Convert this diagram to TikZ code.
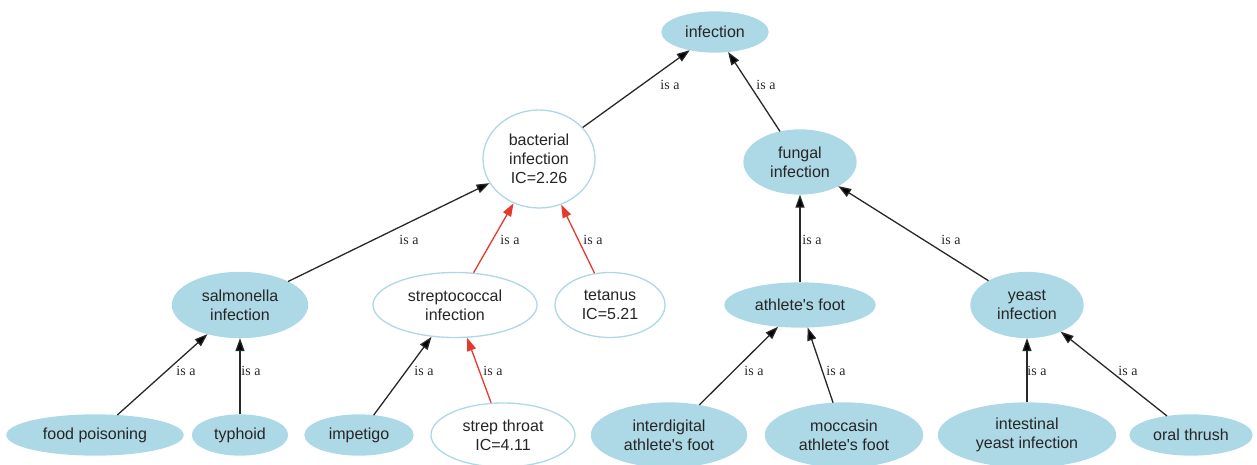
\documentclass[tikz,border=0pt]{standalone}
\usepackage{fontspec}
\setmainfont{Liberation Serif}
\setsansfont{Liberation Sans}
\usetikzlibrary{shapes.geometric, arrows.meta}
\definecolor{conceptblue}{RGB}{173,216,230}
\definecolor{pathred}{RGB}{229,57,45}
\definecolor{edgegray}{RGB}{40,40,40}
\tikzset{
->, % every edge points to the parent concept
>={Triangle[length=13pt,width=9pt]}, % filled heads, graphviz style
concept/.style={ellipse, inner sep=0pt, fill=conceptblue, draw=conceptblue, line width=1.3pt, align=center, text=black!85, font=\sffamily\fontsize{16}{19}\selectfont}, % a concept of the ontology
ic/.style={concept, fill=white}, % concepts that carry an IC value
isa/.style={font=\fontsize{14}{16}\selectfont, text=black!85, inner sep=0pt}, % edge labels
link/.style={draw=edgegray, line width=1.3pt},
redlink/.style={draw=pathred},
}

\begin{document}
\begin{tikzpicture}[x=1pt, y=-1pt]
    \useasboundingbox (0,0) rectangle (1257,465);
    % top
    \node[concept, minimum width=106pt, minimum height=40pt] (inf) at (715,32) {infection};
    \node[ic, minimum width=112pt, minimum height=98pt] (bact) at (539,159) {bacterial\\infection\\IC=2.26};
    \node[concept, minimum width=112pt, minimum height=64pt] (fung) at (800,162) {fungal\\infection};
    % middle row
    \node[concept, minimum width=135pt, minimum height=65pt] (salm) at (240,305) {salmonella\\infection};
    \node[ic, minimum width=164pt, minimum height=65pt] (strep) at (455,305) {streptococcal\\infection};
    \node[ic, minimum width=110pt, minimum height=65pt] (tet) at (610,305) {tetanus\\IC=5.21};
    \node[concept, minimum width=150pt, minimum height=44pt] (athl) at (800,305) {athlete\textquotesingle s foot};
    \node[concept, minimum width=112pt, minimum height=65pt] (yeast) at (1027,305) {yeast\\infection};
    % bottom row
    \node[concept, minimum width=176pt, minimum height=40pt] (food) at (95,435) {food poisoning};
    \node[concept, minimum width=95pt, minimum height=40pt] (typh) at (240,435) {typhoid};
    \node[concept, minimum width=108pt, minimum height=40pt] (imp) at (359,435) {impetigo};
    \node[ic, minimum width=144pt, minimum height=64pt] (throat) at (503,435) {strep throat\\IC=4.11};
    \node[concept, minimum width=155pt, minimum height=64pt] (inter) at (669,435) {interdigital\\athlete\textquotesingle s foot};
    \node[concept, minimum width=157pt, minimum height=64pt] (mocc) at (844,435) {moccasin\\athlete\textquotesingle s foot};
    \node[concept, minimum width=177pt, minimum height=64pt] (intest) at (1027,435) {intestinal\\yeast infection};
    \node[concept, minimum width=122pt, minimum height=40pt] (oral) at (1191,435) {oral thrush};
    \draw[link]
    (bact) edge (inf)
    (fung) edge (inf)
    (salm) edge (bact)
    (strep) edge[redlink] (bact)
    (tet) edge[redlink] (bact)
    (athl) edge (fung)
    (yeast) edge (fung)
    (food) edge (salm)
    (typh) edge (salm)
    (imp) edge (strep)
    (throat) edge[redlink] (strep)
    (inter) edge (athl)
    (mocc) edge (athl)
    (intest) edge (yeast)
    (oral) edge (yeast);
    % edge labels
    \foreach \lx/\ly [count=\i] in {670/85, 766/85, 409/240, 510/240, 593/240, 812/240, 951/240, 186/371, 251/371, 424/371, 493/371, 754/371, 836/371, 1037/371, 1128/371}
        \node[isa] (isa\i) at (\lx,\ly) {is a};
\end{tikzpicture}
\end{document}
